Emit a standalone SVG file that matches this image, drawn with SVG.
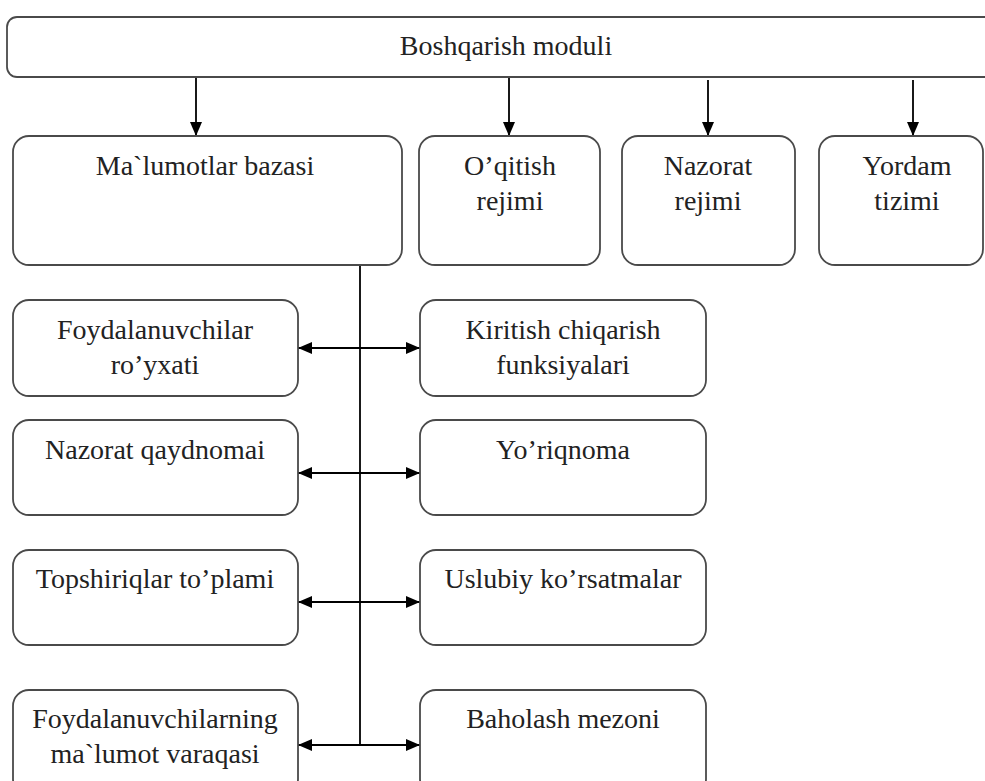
<svg xmlns="http://www.w3.org/2000/svg" width="985" height="781" viewBox="0 0 985 781" font-family="'Liberation Serif', 'Times New Roman', 'DejaVu Serif', serif">
<defs>
<style>
.box{fill:#fff;stroke:#4a4a4a;stroke-width:1.8}
text{font-family:'Liberation Serif','Times New Roman','DejaVu Serif',serif;font-size:28px;fill:#222;text-anchor:middle}
.ln{stroke:#000;stroke-width:1.8;fill:none}
</style>
<marker id="ah" viewBox="0 0 14 12" refX="14" refY="6" markerWidth="14" markerHeight="12" markerUnits="userSpaceOnUse" orient="auto-start-reverse">
<path d="M0,0 L14,6 L0,12 Z" fill="#000"/>
</marker>
</defs>
<rect width="985" height="781" fill="#fff"/>
<g id="connectors">
<line class="ln" x1="196" y1="77" x2="196" y2="136" marker-end="url(#ah)"/>
<line class="ln" x1="509" y1="77" x2="509" y2="136" marker-end="url(#ah)"/>
<line class="ln" x1="708" y1="80" x2="708" y2="136" marker-end="url(#ah)"/>
<line class="ln" x1="913" y1="80" x2="913" y2="136" marker-end="url(#ah)"/>
<line class="ln" x1="360" y1="265" x2="360" y2="745"/>
<line class="ln" x1="298" y1="348" x2="420" y2="348" marker-start="url(#ah)" marker-end="url(#ah)"/>
<line class="ln" x1="298" y1="473" x2="420" y2="473" marker-start="url(#ah)" marker-end="url(#ah)"/>
<line class="ln" x1="298" y1="602" x2="420" y2="602" marker-start="url(#ah)" marker-end="url(#ah)"/>
<line class="ln" x1="298" y1="745" x2="420" y2="745" marker-start="url(#ah)" marker-end="url(#ah)"/>
</g>
<g id="boshqarish">
<rect class="box" x="7" y="17" width="990" height="60" rx="10"/>
<text x="506" y="55">Boshqarish moduli</text>
</g>
<g id="malumotlar">
<rect class="box" x="13" y="136" width="389" height="129" rx="16"/>
<text x="205" y="175">Ma`lumotlar bazasi</text>
</g>
<g id="oqitish">
<rect class="box" x="419" y="136" width="181" height="129" rx="16"/>
<text x="510" y="175">O’qitish</text>
<text x="510" y="210">rejimi</text>
</g>
<g id="nazorat-rejimi">
<rect class="box" x="622" y="136" width="173" height="129" rx="16"/>
<text x="708" y="175">Nazorat</text>
<text x="708" y="210">rejimi</text>
</g>
<g id="yordam">
<rect class="box" x="819" y="136" width="164" height="129" rx="16"/>
<text x="907" y="175">Yordam</text>
<text x="907" y="210">tizimi</text>
</g>
<g id="foydalanuvchilar">
<rect class="box" x="13" y="300" width="285" height="96" rx="16"/>
<text x="155" y="339">Foydalanuvchilar</text>
<text x="155" y="374">ro’yxati</text>
</g>
<g id="kiritish">
<rect class="box" x="420" y="300" width="286" height="96" rx="16"/>
<text x="563" y="339">Kiritish chiqarish</text>
<text x="563" y="374">funksiyalari</text>
</g>
<g id="nazorat-qaydnomai">
<rect class="box" x="13" y="420" width="285" height="95" rx="16"/>
<text x="155" y="459">Nazorat qaydnomai</text>
</g>
<g id="yoriqnoma">
<rect class="box" x="420" y="420" width="286" height="95" rx="16"/>
<text x="563" y="459">Yo’riqnoma</text>
</g>
<g id="topshiriqlar">
<rect class="box" x="13" y="550" width="285" height="95" rx="16"/>
<text x="155" y="588">Topshiriqlar to’plami</text>
</g>
<g id="uslubiy">
<rect class="box" x="420" y="550" width="286" height="95" rx="16"/>
<text x="563" y="588">Uslubiy ko’rsatmalar</text>
</g>
<g id="foydalanuvchilarning">
<rect class="box" x="13" y="690" width="285" height="105" rx="16"/>
<text x="155" y="728">Foydalanuvchilarning</text>
<text x="155" y="763">ma`lumot varaqasi</text>
</g>
<g id="baholash">
<rect class="box" x="420" y="690" width="286" height="105" rx="16"/>
<text x="563" y="728">Baholash mezoni</text>
</g>
</svg>
